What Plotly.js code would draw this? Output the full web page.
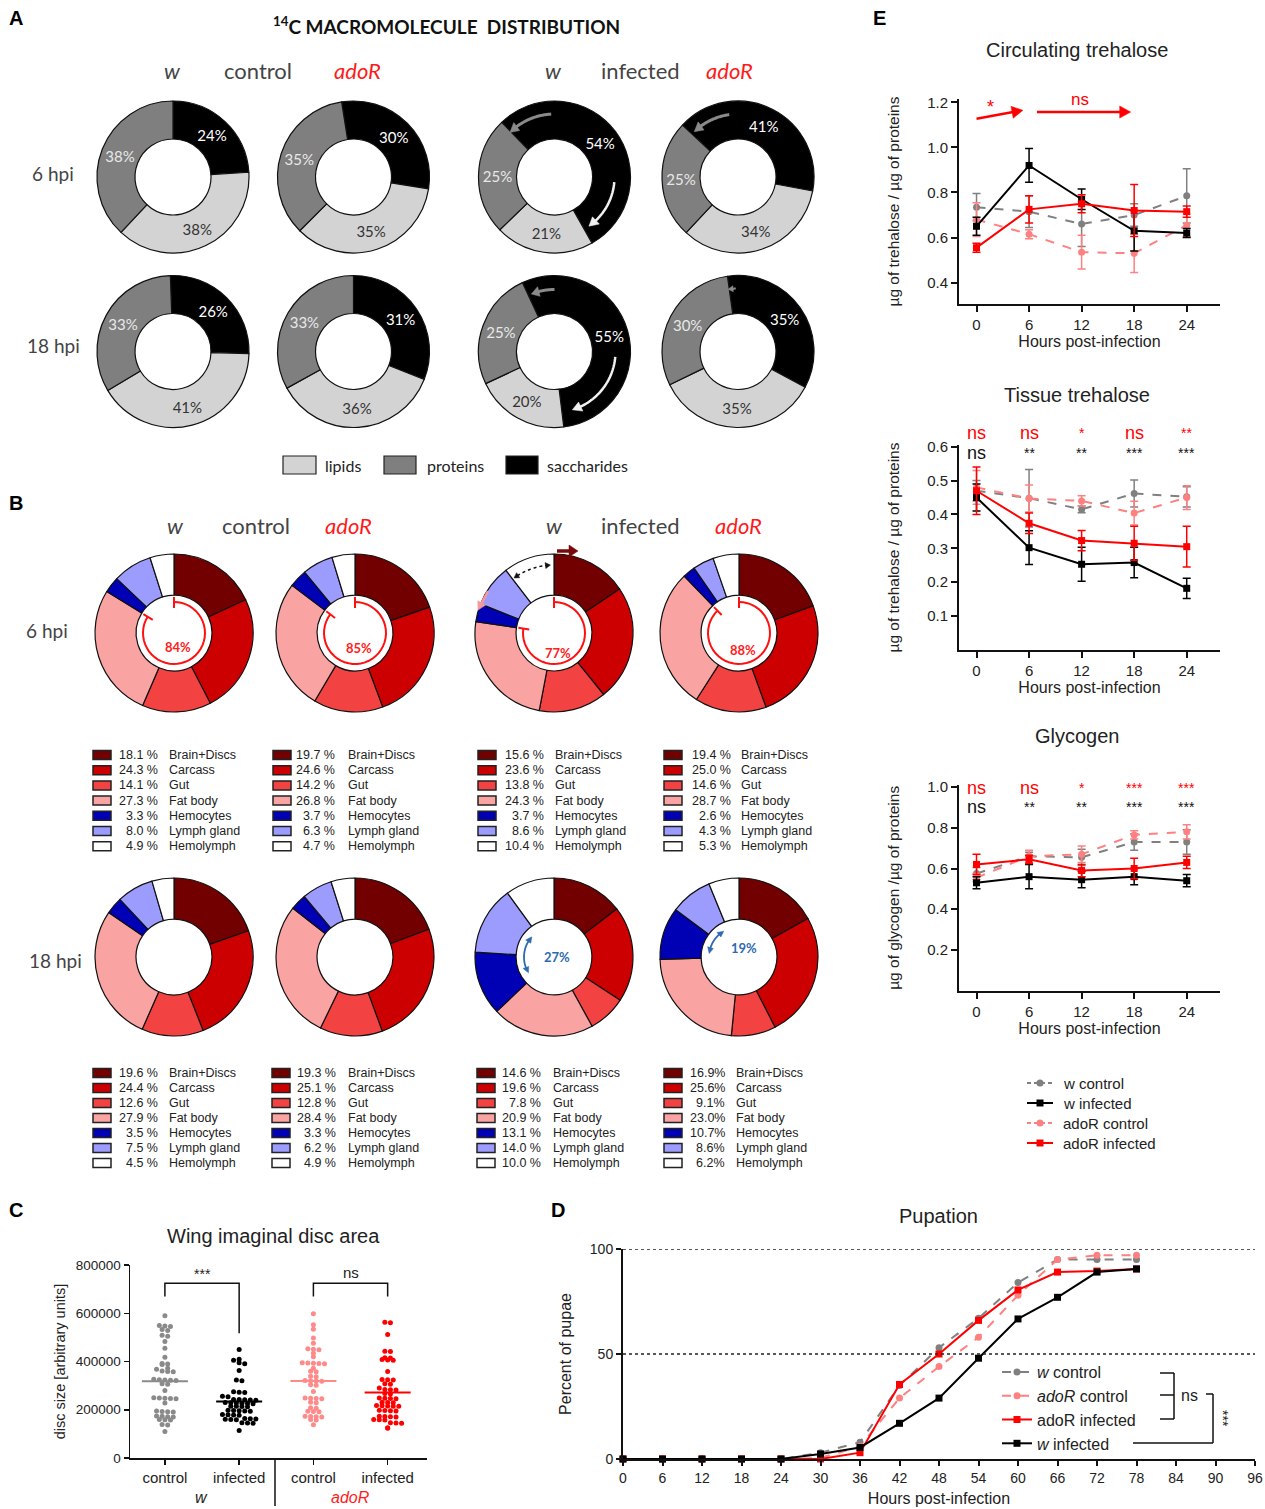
<!DOCTYPE html>
<html><head><meta charset="utf-8">
<script src="https://cdn.plot.ly/plotly-3.0.1.min.js"></script>
<style>body{margin:0;background:#fff}</style>
</head><body><div id="chart" style="width:1265px;height:1509px"></div>
<script>
// ================= DATA =================
// Panel A: 14C macromolecule distribution (order: saccharides, lipids, proteins)
const macroNames = ['saccharides', 'lipids', 'proteins'];
const aCtrlW6 = [24, 38, 38];
const aCtrlAdoR6 = [30, 35, 35];
const aInfW6 = [54, 21, 25];
const aInfAdoR6 = [41, 34, 25];
const aCtrlW18 = [26, 41, 33];
const aCtrlAdoR18 = [31, 36, 33];
const aInfW18 = [55, 20, 25];
const aInfAdoR18 = [35, 35, 30];

// Panel B: tissue distribution (%)
const tissues = ['Brain+Discs', 'Carcass', 'Gut', 'Fat body', 'Hemocytes', 'Lymph gland', 'Hemolymph'];
const bCtrlW6 = [18.1, 24.3, 14.1, 27.3, 3.3, 8.0, 4.9];
const bCtrlAdoR6 = [19.7, 24.6, 14.2, 26.8, 3.7, 6.3, 4.7];
const bInfW6 = [15.6, 23.6, 13.8, 24.3, 3.7, 8.6, 10.4];
const bInfAdoR6 = [19.4, 25.0, 14.6, 28.7, 2.6, 4.3, 5.3];
const bCtrlW18 = [19.6, 24.4, 12.6, 27.9, 3.5, 7.5, 4.5];
const bCtrlAdoR18 = [19.3, 25.1, 12.8, 28.4, 3.3, 6.2, 4.9];
const bInfW18 = [14.6, 19.6, 7.8, 20.9, 13.1, 14.0, 10.0];
const bInfAdoR18 = [16.9, 25.6, 9.1, 23.0, 10.7, 8.6, 6.2];

// Panel C: wing imaginal disc area
const discGroups = ['control', 'infected', 'control', 'infected'];
const discWCtrl = [590000, 549000, 547000, 545000, 533000, 529000, 509000, 505000, 483000, 455000, 418000,
  392000, 390000, 388000, 372000, 368000, 361000, 359000, 357000, 326000, 324000, 323000, 322000, 321000,
  308000, 306000, 280000, 250000, 249000, 248000, 247000, 246000, 228000, 195000, 193000, 192000, 191000,
  174000, 173000, 171000, 170000, 160000, 159000, 158000, 139000, 137000, 110000];
const discWInf = [450000, 409000, 405000, 395000, 391000, 363000, 323000, 320000, 275000, 273000, 271000,
  256000, 254000, 243000, 242000, 241000, 240000, 239000, 230000, 229000, 228000, 227000, 226000, 225000,
  215000, 214000, 213000, 212000, 198000, 197000, 196000, 195000, 194000, 180000, 179000, 178000, 177000,
  164000, 163000, 162000, 161000, 160000, 159000, 146000, 145000, 144000, 114000];
const discAdoRCtrl = [598000, 552000, 534000, 497000, 476000, 453000, 451000, 449000, 434000, 420000, 395000,
  394000, 393000, 392000, 391000, 372000, 360000, 358000, 339000, 337000, 321000, 320000, 319000, 318000,
  304000, 302000, 276000, 249000, 248000, 247000, 246000, 231000, 229000, 208000, 206000, 194000, 193000,
  192000, 173000, 172000, 171000, 170000, 160000, 158000, 138000];
const discAdoRInf = [563000, 561000, 512000, 443000, 441000, 416000, 414000, 408000, 406000, 405000, 359000,
  325000, 324000, 323000, 308000, 306000, 290000, 284000, 283000, 282000, 267000, 265000, 249000, 248000,
  247000, 246000, 231000, 230000, 229000, 218000, 217000, 216000, 215000, 214000, 198000, 197000, 196000,
  195000, 173000, 172000, 171000, 170000, 160000, 159000, 158000, 146000, 145000, 144000, 125000, 123000];

// Panel D: pupation (%)
const hoursD = [0, 6, 12, 18, 24, 30, 36, 42, 48, 54, 60, 66, 72, 78];
const pupWCtrl = [0, 0, 0, 0, 0, 3, 8, 35, 53, 67, 84, 95, 95, 95];
const pupAdoRCtrl = [0, 0, 0, 0, 0, 0.5, 6, 29, 44, 58, 78, 95, 97, 97];
const pupAdoRInf = [0, 0, 0, 0, 0, 0, 3, 35.5, 50, 66, 80.5, 89, 89.5, 90.5];
const pupWInf = [0, 0, 0, 0, 0, 2.4, 5.5, 17, 29, 48, 66.7, 77, 89, 90.5];

// Panel E: metabolites
const hoursE = [0, 6, 12, 18, 24];
const circWCtrl = [0.735, 0.715, 0.66, 0.70, 0.785];
const circWCtrlErr = [0.06, 0.07, 0.10, 0.05, 0.12];
const circWInf = [0.65, 0.92, 0.77, 0.63, 0.62];
const circWInfErr = [0.04, 0.075, 0.045, 0.09, 0.02];
const circAdoRCtrl = [0.68, 0.615, 0.535, 0.53, 0.655];
const circAdoRCtrlErr = [0.075, 0.02, 0.075, 0.085, 0.05];
const circAdoRInf = [0.555, 0.725, 0.75, 0.72, 0.715];
const circAdoRInfErr = [0.02, 0.06, 0.04, 0.115, 0.025];

const tissWCtrl = [0.47, 0.448, 0.415, 0.462, 0.452];
const tissWCtrlErr = [0.03, 0.085, 0.01, 0.04, 0.03];
const tissWInf = [0.45, 0.302, 0.253, 0.258, 0.182];
const tissWInfErr = [0.04, 0.05, 0.05, 0.045, 0.03];
const tissAdoRCtrl = [0.48, 0.447, 0.44, 0.404, 0.45];
const tissAdoRCtrlErr = [0.05, 0.04, 0.015, 0.035, 0.035];
const tissAdoRInf = [0.47, 0.374, 0.323, 0.315, 0.305];
const tissAdoRInfErr = [0.07, 0.03, 0.03, 0.05, 0.06];

const glyWCtrl = [0.575, 0.66, 0.655, 0.73, 0.73];
const glyWCtrlErr = [0.03, 0.02, 0.04, 0.04, 0.06];
const glyWInf = [0.53, 0.56, 0.545, 0.56, 0.54];
const glyWInfErr = [0.03, 0.06, 0.04, 0.04, 0.03];
const glyAdoRCtrl = [0.555, 0.66, 0.67, 0.765, 0.78];
const glyAdoRCtrlErr = [0.02, 0.03, 0.04, 0.02, 0.035];
const glyAdoRInf = [0.62, 0.645, 0.59, 0.60, 0.63];
const glyAdoRInfErr = [0.05, 0.02, 0.03, 0.05, 0.03];

const sigTissRed = ['ns', 'ns', '*', 'ns', '**'];
const sigTissBlack = ['ns', '**', '**', '***', '***'];
const sigGlyRed = ['ns', 'ns', '*', '***', '***'];
const sigGlyBlack = ['ns', '**', '**', '***', '***'];

// ================= HELPERS =================
const W = 1265, H = 1509;
const px = x => x / W;
const py = y => 1 - y / H;
const ARIAL = 'Arial, "Liberation Sans", sans-serif';
const CAL = 'Lato, "Open Sans", sans-serif';

const macroColors = ['#000000', '#d3d3d3', '#7f7f7f'];
const macroTextColors = ['#ffffff', '#333333', '#e8e8e8'];
const tissueColors = ['#730000', '#cc0000', '#f24242', '#f9a3a3', '#0000b4', '#9c9cff', '#ffffff'];

const data = [];
const shapes = [];
const annotations = [];

function ann(x, y, text, opt) {
  annotations.push(Object.assign({x: px(x), y: py(y), xref: 'paper', yref: 'paper', text, showarrow: false,
    xanchor: 'center', yanchor: 'middle',
    font: {family: ARIAL, size: 14, color: '#000'}}, opt || {}));
}

function donut(vals, names, colors, cx, cy, r, hole, rotation, extra) {
  data.push(Object.assign({
    type: 'pie', values: vals, labels: names, sort: false, direction: 'clockwise', rotation: rotation,
    hole: hole, domain: {x: [px(cx - r), px(cx + r)], y: [py(cy + r), py(cy - r)]},
    marker: {colors: colors, line: {color: '#111', width: 1.2}},
    textinfo: 'none', hoverinfo: 'skip', showlegend: false
  }, extra || {}));
}

function polarPt(cx, cy, r, a) {
  const t = a * Math.PI / 180;
  return [px(cx + r * Math.sin(t)), py(cy - r * Math.cos(t))];
}
function arcPath(cx, cy, r, a0, a1) {
  const n = 40; let d = '';
  for (let i = 0; i <= n; i++) {
    const p = polarPt(cx, cy, r, a0 + (a1 - a0) * i / n);
    d += (i ? ' L ' : 'M ') + p[0].toFixed(5) + ',' + p[1].toFixed(5);
  }
  return d;
}
function headPath(cx, cy, r, aEnd, dir, hlPx, hw) {
  const hl = hlPx / r * 180 / Math.PI;
  const tip = polarPt(cx, cy, r, aEnd);
  const b1 = polarPt(cx, cy, r + hw, aEnd - dir * hl);
  const b2 = polarPt(cx, cy, r - hw, aEnd - dir * hl);
  return `M ${tip[0]},${tip[1]} L ${b1[0]},${b1[1]} L ${b2[0]},${b2[1]} Z`;
}
function arcArrow(cx, cy, r, a0, a1, color, width, opts) {
  opts = opts || {};
  const dir = a1 > a0 ? 1 : -1;
  const hl = opts.hl || 8, hw = opts.hw || 4;
  const sh = dir * (hl * 0.8) / r * 180 / Math.PI;
  shapes.push({type: 'path', xref: 'paper', yref: 'paper', path: arcPath(cx, cy, r, opts.both ? a0 + sh : a0, a1 - sh),
    line: {color: color, width: width, dash: opts.dash || 'solid'}});
  shapes.push({type: 'path', xref: 'paper', yref: 'paper', path: headPath(cx, cy, r, a1, dir, hl, hw),
    fillcolor: color, line: {color: color, width: 0.5}});
  if (opts.both) shapes.push({type: 'path', xref: 'paper', yref: 'paper', path: headPath(cx, cy, r, a0, -dir, hl, hw),
    fillcolor: color, line: {color: color, width: 0.5}});
}
// straight arrow in pixel space
function arrowPx(x0, y0, x1, y1, color, width, hl, hw) {
  const L = Math.hypot(x1 - x0, y1 - y0), ux = (x1 - x0) / L, uy = (y1 - y0) / L;
  const bx = x1 - ux * hl, by = y1 - uy * hl;
  shapes.push({type: 'line', xref: 'paper', yref: 'paper', x0: px(x0), y0: py(y0), x1: px(bx + ux), y1: py(by + uy),
    line: {color: color, width: width}});
  const p1 = [bx - uy * hw, by + ux * hw], p2 = [bx + uy * hw, by - ux * hw];
  shapes.push({type: 'path', xref: 'paper', yref: 'paper',
    path: `M ${px(x1)},${py(y1)} L ${px(p1[0])},${py(p1[1])} L ${px(p2[0])},${py(p2[1])} Z`,
    fillcolor: color, line: {color: color, width: 0.5}});
}
function radialTick(cx, cy, r0, r1, a, color, width) {
  const p0 = polarPt(cx, cy, r0, a), p1 = polarPt(cx, cy, r1, a);
  shapes.push({type: 'line', xref: 'paper', yref: 'paper', x0: p0[0], y0: p0[1], x1: p1[0], y1: p1[1],
    line: {color: color, width: width}});
}
function rectPx(x0, y0, x1, y1, fill, lw, lc) {
  shapes.push({type: 'rect', xref: 'paper', yref: 'paper', x0: px(x0), x1: px(x1), y0: py(y1), y1: py(y0),
    fillcolor: fill, line: {color: lc || '#222', width: lw === undefined ? 1.5 : lw}});
}
function linePx(x0, y0, x1, y1, color, width, dash) {
  shapes.push({type: 'line', xref: 'paper', yref: 'paper', x0: px(x0), y0: py(y0), x1: px(x1), y1: py(y1),
    line: {color: color || '#000', width: width || 1.5, dash: dash || 'solid'}});
}

// ================= PANEL LETTERS =================
[['A', 16, 18], ['B', 16, 503], ['C', 16, 1210], ['D', 558, 1210], ['E', 879, 18]].forEach(l =>
  ann(l[1], l[2], '<b>' + l[0] + '</b>', {font: {family: ARIAL, size: 20, color: '#000'}}));

// ================= PANEL A =================
ann(446, 26, '<b><sup>14</sup>C MACROMOLECULE  DISTRIBUTION</b>', {font: {family: CAL, size: 19, color: '#111'}});
function headers(y, xs) {
  ann(xs[0], y, '<i>w</i>', {font: {family: CAL, size: 22}});
  ann(xs[1], y, 'control', {font: {family: CAL, size: 22}});
  ann(xs[2], y, '<i>adoR</i>', {font: {family: CAL, size: 22, color: '#ff1a1a'}});
  ann(xs[3], y, '<i>w</i>', {font: {family: CAL, size: 22}});
  ann(xs[4], y, 'infected', {font: {family: CAL, size: 22}});
  ann(xs[5], y, '<i>adoR</i>', {font: {family: CAL, size: 22, color: '#ff1a1a'}});
}
headers(70, [172, 258, 357, 553, 640, 729]);
ann(53, 173, '6 hpi', {font: {family: CAL, size: 19}});
ann(53, 345, '18 hpi', {font: {family: CAL, size: 19}});

const aX = [173, 353.5, 554.5, 738];
const aRow = [177, 351.5];
const aSets = [[aCtrlW6, 0], [aCtrlAdoR6, -9], [aInfW6, -44], [aInfAdoR6, -47],
               [aCtrlW18, -2], [aCtrlAdoR18, 0], [aInfW18, -25], [aInfAdoR18, -8]];
aSets.forEach((s, i) => {
  donut(s[0], macroNames, macroColors, aX[i % 4], aRow[Math.floor(i / 4)], 76, 0.5, s[1], {
    text: s[0].map(v => v + '%'), texttemplate: '%{text}', textposition: 'inside',
    insidetextorientation: 'horizontal',
    textfont: {family: CAL, size: 15, color: macroTextColors}
  });
});
// arrows on infected donuts
arcArrow(554.5, 177, 63, -3, -45, '#8a8a8a', 3, {hl: 9, hw: 5});
arcArrow(554.5, 177, 60, 95, 145, '#f0f0f0', 2.5, {hl: 9, hw: 5});
arcArrow(738, 177, 63, -8, -44, '#8a8a8a', 3, {hl: 9, hw: 5});
arcArrow(554.5, 351.5, 62, 0, -22, '#8a8a8a', 3, {hl: 8, hw: 5});
arcArrow(554.5, 351.5, 61, 95, 163, '#f0f0f0', 2.5, {hl: 9, hw: 5});
arcArrow(738, 351.5, 63, -2, -9, '#8a8a8a', 2, {hl: 5, hw: 3});

// legend A
rectPx(283, 456, 316, 474, macroColors[1], 1.2);
ann(323, 465, 'lipids', {xanchor: 'left', font: {family: CAL, size: 16, color: '#222'}});
rectPx(384, 456, 416, 474, macroColors[2], 1.2);
ann(425, 465, 'proteins', {xanchor: 'left', font: {family: CAL, size: 16, color: '#222'}});
rectPx(506, 456, 538, 474, macroColors[0], 1.2);
ann(545, 465, 'saccharides', {xanchor: 'left', font: {family: CAL, size: 16, color: '#222'}});

// ================= PANEL B =================
headers(525, [175, 256, 348, 554, 640, 738]);
ann(47, 630, '6 hpi', {font: {family: CAL, size: 19}});
ann(55, 960, '18 hpi', {font: {family: CAL, size: 19}});

const bX = [174, 355, 554, 739];
const bRow = [633, 957];
const bSets = [bCtrlW6, bCtrlAdoR6, bInfW6, bInfAdoR6, bCtrlW18, bCtrlAdoR18, bInfW18, bInfAdoR18];
bSets.forEach((s, i) => donut(s, tissues, tissueColors, bX[i % 4], bRow[Math.floor(i / 4)], 79, 0.48, 0));

// red arcs (fraction of first four tissues) in 6 hpi row
const centerPctY = [647, 648, 653, 650];
[bCtrlW6, bCtrlAdoR6, bInfW6, bInfAdoR6].forEach((s, i) => {
  const frac = s.slice(0, 4).reduce((a, b) => a + b, 0);
  const tot = s.reduce((a, b) => a + b, 0);
  const aEnd = frac / tot * 360;
  shapes.push({type: 'path', xref: 'paper', yref: 'paper', path: arcPath(bX[i], bRow[0], 31, 0, aEnd),
    line: {color: '#ff1010', width: 2}});
  radialTick(bX[i], bRow[0], 25, 36, 0, '#ff1010', 2);
  radialTick(bX[i], bRow[0], 25, 36, aEnd, '#ff1010', 2);
  ann(bX[i] + 4, centerPctY[i], '<b>' + Math.round(frac) + '%</b>', {font: {family: CAL, size: 13, color: '#ff2020'}});
});
// extra arrows on w infected 6 hpi
arrowPx(557, 551, 578, 551, '#7a0a0a', 3.5, 9, 6);
arrowPx(488, 591, 478, 610, '#f59a9a', 2.5, 8, 4.5);
arcArrow(554, 633, 68, -36, -3, '#111', 1.5, {both: true, dash: 'dot', hl: 5, hw: 3});

// blue arcs on 18 hpi infected
[[bInfW18, 2], [bInfAdoR18, 3]].forEach(p => {
  const s = p[0], i = p[1];
  const tot = s.reduce((a, b) => a + b, 0);
  const a0 = s.slice(0, 4).reduce((a, b) => a + b, 0) / tot * 360;
  const a1 = s.slice(0, 6).reduce((a, b) => a + b, 0) / tot * 360;
  const pad = (a1 - a0) * 0.12;
  arcArrow(bX[i], bRow[1], 30, a0 + pad, a1 - pad, '#2d6bb0', 1.8, {both: true, hl: 6, hw: 3});
  const pct = Math.round(s[4] + s[5]);
  ann(bX[i] - 12 + (i === 3 ? 2 : 0), bRow[1] + (i === 3 ? -9 : 0), '<b>' + pct + '%</b>',
    {font: {family: CAL, size: 13, color: '#2d6bb0'}, xanchor: 'left'});
});

// legend tables
function table(vals, sqX, pctR, labL, y0, dy, sep) {
  vals.forEach((v, k) => {
    const y = y0 + k * dy;
    rectPx(sqX, y - 4.5, sqX + 18, y + 4.5, tissueColors[k], 1.5);
    ann(pctR, y, v.toFixed(1) + sep + '%', {xanchor: 'right', font: {family: ARIAL, size: 12.5, color: '#222'}});
    ann(labL, y, tissues[k], {xanchor: 'left', font: {family: ARIAL, size: 12.5, color: '#222'}});
  });
}
table(bCtrlW6, 93, 160, 167, 755, 15.2, ' ');
table(bCtrlAdoR6, 273, 337, 346, 755, 15.2, ' ');
table(bInfW6, 478, 546, 553, 755, 15.2, ' ');
table(bInfAdoR6, 664, 733, 739, 755, 15.2, ' ');
table(bCtrlW18, 93, 160, 167, 1073, 15.0, ' ');
table(bCtrlAdoR18, 272, 338, 346, 1073, 15.0, ' ');
table(bInfW18, 477, 543, 551, 1073, 15.0, ' ');
table(bInfAdoR18, 664, 727, 734, 1073, 15.0, '');

// ================= PANEL E =================
const styles = [
  {key: 'wCtrl', color: '#808080', dash: 'dash', symbol: 'circle', name: 'w control'},
  {key: 'wInf', color: '#000000', dash: 'solid', symbol: 'square', name: 'w infected'},
  {key: 'aCtrl', color: '#ff8080', dash: 'dash', symbol: 'circle', name: 'adoR control'},
  {key: 'aInf', color: '#ff0000', dash: 'solid', symbol: 'square', name: 'adoR infected'}
];
const st = {};
styles.forEach(s => st[s.key] = s);
function eTrace(y, err, s, xa, ya) {
  data.push({type: 'scatter', mode: 'lines+markers', x: hoursE, y: y, xaxis: xa, yaxis: ya,
    name: s.name, showlegend: false, cliponaxis: false,
    line: {color: s.color, width: 2, dash: s.dash}, marker: {color: s.color, size: 7, symbol: s.symbol},
    error_y: {type: 'data', array: err, visible: true, color: s.color, thickness: 1.5, width: 4},
    hoverinfo: 'skip'});
}
eTrace(circWCtrl, circWCtrlErr, st.wCtrl, 'x', 'y');
eTrace(circAdoRCtrl, circAdoRCtrlErr, st.aCtrl, 'x', 'y');
eTrace(circWInf, circWInfErr, st.wInf, 'x', 'y');
eTrace(circAdoRInf, circAdoRInfErr, st.aInf, 'x', 'y');
eTrace(tissWCtrl, tissWCtrlErr, st.wCtrl, 'x2', 'y2');
eTrace(tissAdoRCtrl, tissAdoRCtrlErr, st.aCtrl, 'x2', 'y2');
eTrace(tissWInf, tissWInfErr, st.wInf, 'x2', 'y2');
eTrace(tissAdoRInf, tissAdoRInfErr, st.aInf, 'x2', 'y2');
eTrace(glyWCtrl, glyWCtrlErr, st.wCtrl, 'x3', 'y3');
eTrace(glyAdoRCtrl, glyAdoRCtrlErr, st.aCtrl, 'x3', 'y3');
eTrace(glyWInf, glyWInfErr, st.wInf, 'x3', 'y3');
eTrace(glyAdoRInf, glyAdoRInfErr, st.aInf, 'x3', 'y3');

// E legend (drawn by hand to match the row spacing)
styles.forEach((s, k) => {
  const y = 1083 + k * 20;
  linePx(1027, y, 1053, y, s.color, 2, s.dash === 'dash' ? '4px,3px' : 'solid');
  if (s.symbol === 'circle') {
    shapes.push({type: 'circle', xref: 'paper', yref: 'paper', x0: px(1036.5), x1: px(1043.5), y0: py(y + 3.5), y1: py(y - 3.5),
      fillcolor: s.color, line: {color: s.color, width: 0}});
  } else {
    rectPx(1036.5, y - 3.5, 1043.5, y + 3.5, s.color, 0, s.color);
  }
  ann(1061, y, s.name, {xanchor: 'left', font: {family: ARIAL, size: 15, color: '#222'}});
});

ann(1077, 50, 'Circulating trehalose', {font: {family: ARIAL, size: 20, color: '#222'}});
ann(1077, 395, 'Tissue trehalose', {font: {family: ARIAL, size: 20, color: '#222'}});
ann(1077, 736, 'Glycogen', {font: {family: ARIAL, size: 20, color: '#222'}});

// E1 arrows (positions from the E1 axis scale)
const e1Dom = [959, 1220], e1XR = [-2, 27.8], e1YDom = [304, 99], e1YR = [0.305, 1.215];
const e1x = h => e1Dom[0] + (h - e1XR[0]) / (e1XR[1] - e1XR[0]) * (e1Dom[1] - e1Dom[0]);
const e1y = v => e1YDom[0] + (v - e1YR[0]) / (e1YR[1] - e1YR[0]) * (e1YDom[1] - e1YDom[0]);
arrowPx(e1x(0), e1y(1.127), e1x(5.3), e1y(1.165), '#ff0000', 2.5, 11, 6);
arrowPx(e1x(6.9), e1y(1.157), e1x(17.6), e1y(1.157), '#ff0000', 2.5, 11, 6);
annotations.push({xref: 'x', yref: 'paper', x: 1.6, y: py(107), xanchor: 'center', yanchor: 'middle', text: '*',
  showarrow: false, font: {family: ARIAL, size: 18, color: '#ff0000'}});
annotations.push({xref: 'x', yref: 'paper', x: 11.8, y: py(99), xanchor: 'center', yanchor: 'middle', text: 'ns',
  showarrow: false, font: {family: ARIAL, size: 17, color: '#ff0000'}});

function sigRow(labels, xa, ypx, color) {
  labels.forEach((t, i) => annotations.push({xref: xa, yref: 'paper', x: hoursE[i], y: py(ypx), text: t,
    showarrow: false, xanchor: 'center', yanchor: 'middle',
    font: {family: ARIAL, size: t === 'ns' ? 18 : 14, color: color}}));
}
sigRow(sigTissRed, 'x2', 433, '#ff0000');
sigRow(sigTissBlack, 'x2', 453, '#111');
sigRow(sigGlyRed, 'x3', 788, '#ff0000');
sigRow(sigGlyBlack, 'x3', 807, '#111');

// ================= PANEL C =================
function swarm(vals, center) {
  const bin = 19000, dx = 0.075, groups = {};
  vals.forEach(v => { const k = Math.round(v / bin); (groups[k] = groups[k] || []).push(v); });
  const xs = [], ys = [];
  Object.keys(groups).forEach(k => groups[k].forEach((v, i) => {
    xs.push(center + (i - (groups[k].length - 1) / 2) * dx); ys.push(v);
  }));
  return {xs, ys};
}
const discSets = [discWCtrl, discWInf, discAdoRCtrl, discAdoRInf];
const discColors = ['#8a8a8a', '#000000', '#ff8a8a', '#ff0000'];
discSets.forEach((s, i) => {
  const sw = swarm(s, i);
  data.push({type: 'scatter', mode: 'markers', x: sw.xs, y: sw.ys, xaxis: 'x4', yaxis: 'y4', showlegend: false,
    marker: {color: discColors[i], size: 5}, hoverinfo: 'skip', cliponaxis: false});
  const mean = s.reduce((a, b) => a + b, 0) / s.length;
  data.push({type: 'scatter', mode: 'lines', x: [i - 0.31, i + 0.31], y: [mean, mean], xaxis: 'x4', yaxis: 'y4',
    showlegend: false, line: {color: discColors[i], width: 2}, hoverinfo: 'skip'});
});
ann(273, 1236, 'Wing imaginal disc area', {font: {family: ARIAL, size: 20, color: '#222'}});
shapes.push({type: 'path', xref: 'x4', yref: 'y4', path: 'M 0,669000 L 0,724000 L 1,724000 L 1,517000', line: {color: '#111', width: 1.5}});
shapes.push({type: 'path', xref: 'x4', yref: 'y4', path: 'M 2,669000 L 2,724000 L 3,724000 L 3,669000', line: {color: '#111', width: 1.5}});
annotations.push({xref: 'x4', yref: 'y4', x: 0.5, y: 762000, text: '***', showarrow: false, font: {family: ARIAL, size: 14, color: '#222'}});
annotations.push({xref: 'x4', yref: 'y4', x: 2.5, y: 770000, text: 'ns', showarrow: false, font: {family: ARIAL, size: 15, color: '#222'}});
linePx(275, 1458, 275, 1506, '#111', 1.5);
ann(201, 1497, '<i>w</i>', {font: {family: ARIAL, size: 16, color: '#222'}});
ann(350, 1497, '<i>adoR</i>', {font: {family: ARIAL, size: 16, color: '#ff1a1a'}});

// ================= PANEL D =================
const dStyles = [
  [pupWCtrl, '#808080', 'dash', 'circle', '<i>w</i> control'],
  [pupAdoRCtrl, '#ff8080', 'dash', 'circle', '<i>adoR</i> control'],
  [pupAdoRInf, '#ff0000', 'solid', 'square', 'adoR infected'],
  [pupWInf, '#000000', 'solid', 'square', '<i>w</i> infected']
];
dStyles.forEach(d => data.push({type: 'scatter', mode: 'lines+markers', x: hoursD, y: d[0], xaxis: 'x5', yaxis: 'y5',
  name: d[4], legend: 'legend2', cliponaxis: false, line: {color: d[1], width: 2, dash: d[2]},
  marker: {color: d[1], size: 7, symbol: d[3]}, hoverinfo: 'skip'}));
ann(938, 1216, 'Pupation', {font: {family: ARIAL, size: 20, color: '#222'}});
shapes.push({type: 'line', xref: 'paper', yref: 'y5', x0: px(623), x1: px(1255), y0: 100, y1: 100, line: {color: '#222', width: 1.5, dash: 'dot'}});
shapes.push({type: 'line', xref: 'paper', yref: 'y5', x0: px(623), x1: px(1255), y0: 50, y1: 50, line: {color: '#222', width: 1.5, dash: 'dot'}});
// D brackets
linePx(1160, 1373, 1174, 1373, '#111', 1.5);
linePx(1160, 1395, 1174, 1395, '#111', 1.5);
linePx(1160, 1419, 1174, 1419, '#111', 1.5);
linePx(1174, 1373, 1174, 1419, '#111', 1.5);
ann(1189, 1395, 'ns', {font: {family: ARIAL, size: 16, color: '#222'}});
linePx(1206, 1394, 1213, 1394, '#111', 1.5);
linePx(1213, 1394, 1213, 1443, '#111', 1.5);
linePx(1133, 1443, 1213, 1443, '#111', 1.5);
ann(1223, 1418, '***', {textangle: 90, font: {family: ARIAL, size: 14, color: '#222'}});

// ================= LAYOUT =================
const axBase = {showline: true, linecolor: '#111', linewidth: 2, ticks: 'outside', ticklen: 6, tickwidth: 2,
  tickcolor: '#111', showgrid: false, zeroline: false, tickfont: {family: ARIAL, size: 15, color: '#222'}};
function eX(anchor) {
  return Object.assign({}, axBase, {domain: [px(e1Dom[0]), px(e1Dom[1])], anchor: anchor, range: e1XR, tickvals: hoursE,
    title: {text: 'Hours post-infection', font: {family: ARIAL, size: 16, color: '#222'}, standoff: 4}});
}
function eY(dom, anchor, range, tv, title) {
  return Object.assign({}, axBase, {domain: dom, anchor: anchor, range: range, tickvals: tv, tickformat: '.1f',
    title: {text: title, font: {family: ARIAL, size: 15.5, color: '#222'}, standoff: 24}});
}

const layout = {
  width: W, height: H, autosize: false, margin: {l: 0, r: 0, t: 0, b: 0},
  paper_bgcolor: '#fff', plot_bgcolor: 'rgba(0,0,0,0)', font: {family: ARIAL},
  xaxis: eX('y'),
  yaxis: eY([py(e1YDom[0]), py(e1YDom[1])], 'x', e1YR, [0.4, 0.6, 0.8, 1.0, 1.2], 'µg of trehalose / µg of proteins'),
  xaxis2: eX('y2'),
  yaxis2: eY([py(650), py(445)], 'x2', [0, 0.605], [0.1, 0.2, 0.3, 0.4, 0.5, 0.6], 'µg of trehalose / µg of proteins'),
  xaxis3: eX('y3'),
  yaxis3: eY([py(990.7), py(785)], 'x3', [0, 1.01], [0.2, 0.4, 0.6, 0.8, 1.0], 'µg of glycogen /µg of proteins'),
  xaxis4: Object.assign({}, axBase, {domain: [px(130), px(427)], anchor: 'y4', range: [-0.47, 3.53],
    tickvals: [0, 1, 2, 3], ticktext: discGroups, linewidth: 1.5, tickwidth: 1.5, ticklen: 5}),
  yaxis4: Object.assign({}, axBase, {domain: [py(1458), py(1265)], anchor: 'x4', range: [0, 800000],
    tickvals: [0, 200000, 400000, 600000, 800000], tickformat: 'd', linewidth: 1.5, tickwidth: 1.5, ticklen: 5,
    tickfont: {family: ARIAL, size: 13.5, color: '#222'},
    title: {text: 'disc size [arbitrary units]', font: {family: ARIAL, size: 14.5, color: '#222'}, standoff: 6}}),
  xaxis5: Object.assign({}, axBase, {domain: [px(623), px(1255)], anchor: 'y5', range: [0, 96],
    tickvals: [0, 6, 12, 18, 24, 30, 36, 42, 48, 54, 60, 66, 72, 78, 84, 90, 96], ticklen: 5,
    tickfont: {family: ARIAL, size: 14, color: '#222'},
    title: {text: 'Hours post-infection', font: {family: ARIAL, size: 16, color: '#222'}, standoff: 8}}),
  yaxis5: Object.assign({}, axBase, {domain: [py(1459), py(1249)], anchor: 'x5', range: [0, 100],
    tickvals: [0, 50, 100], ticklen: 5, tickfont: {family: ARIAL, size: 14, color: '#222'},
    title: {text: 'Percent of pupae', font: {family: ARIAL, size: 16, color: '#222'}, standoff: 14}}),
  showlegend: true,
  legend2: {x: px(997), y: py(1355), xanchor: 'left', yanchor: 'top', bgcolor: 'rgba(0,0,0,0)',
    font: {family: ARIAL, size: 16, color: '#222'}, tracegroupgap: 0, itemwidth: 30},
  shapes: shapes,
  annotations: annotations
};
Plotly.newPlot('chart', data, layout, {staticPlot: true});
</script>
</body></html>
